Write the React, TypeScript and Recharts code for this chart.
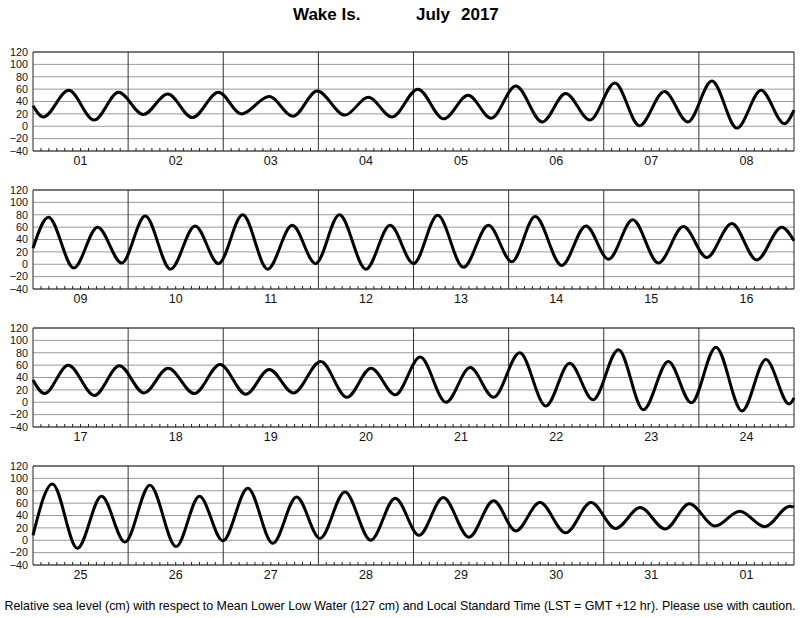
import React from "react";
import {
  CartesianGrid,
  Line,
  LineChart,
  ReferenceArea,
  ReferenceLine,
  XAxis,
  YAxis,
} from "recharts";

const FONT = '"Liberation Sans", Arial, Helvetica, sans-serif';
const GRID = "#9a9a9a";
const FRAME = "#222";

// hours since the first day of each panel, and level (cm) at the highs, lows and panel edges
const P1_HOURS = [0, 2.6, 9.0, 15.4, 21.6, 27.8, 34.0, 40.2, 46.8, 52.6, 59.6, 65.6, 71.7, 78.7, 84.6, 90.6, 97.1, 103.6, 109.8, 115.6, 121.8, 128.5, 134.4, 140.5, 146.8, 153.0, 159.3, 165.2, 171.3, 177.6, 183.7, 189.6, 192];
const P1_LEVELS = [33, 15, 58, 10, 55, 19, 52, 14, 55, 20, 48, 16, 57, 18, 47, 15, 60, 12, 50, 13, 65, 7, 53, 10, 70, 1, 56, 7, 73, -3, 58, 4, 26];

const P2_HOURS = [0, 3.9, 10.3, 16.3, 22.4, 28.3, 34.7, 40.9, 46.8, 52.9, 59.2, 65.4, 71.3, 77.3, 84.0, 90.1, 96.0, 102.1, 108.6, 114.9, 120.8, 126.7, 133.4, 139.5, 145.2, 151.3, 157.8, 164.1, 170.0, 176.3, 182.6, 188.9, 192];
const P2_LEVELS = [26, 76, -6, 60, 2, 78, -8, 62, 1, 80, -8, 63, 1, 80, -8, 63, 1, 79, -5, 63, 4, 77, -2, 62, 8, 72, 2, 61, 11, 66, 7, 60, 38];

const P3_HOURS = [0, 2.9, 8.9, 15.5, 21.8, 28.0, 34.1, 40.7, 47.2, 53.7, 59.6, 65.7, 72.6, 79.2, 85.3, 91.4, 97.7, 104.2, 110.3, 116.2, 122.8, 129.4, 135.4, 141.3, 147.7, 154.0, 160.3, 166.1, 172.3, 178.9, 184.9, 190.8, 192];
const P3_LEVELS = [36, 14, 60, 11, 59, 15, 55, 14, 61, 13, 53, 15, 66, 8, 55, 12, 73, 0, 56, 8, 80, -6, 63, 4, 85, -12, 66, -1, 89, -14, 69, -3, 7];

const P4_HOURS = [0, 4.9, 11.2, 17.3, 23.2, 29.5, 36.1, 42.0, 47.9, 54.2, 60.5, 66.5, 72.4, 78.7, 85.2, 91.4, 97.4, 103.5, 110.0, 116.2, 121.8, 127.9, 134.4, 140.8, 147.0, 153.2, 159.5, 165.6, 172.1, 178.3, 184.6, 191.0, 192];
const P4_LEVELS = [8, 91, -13, 71, -3, 89, -10, 71, -1, 84, -5, 70, 3, 78, 0, 68, 8, 69, 5, 64, 15, 61, 12, 61, 19, 53, 18, 59, 23, 47, 22, 55, 54];

const P1_DAYS = ["01", "02", "03", "04", "05", "06", "07", "08"];
const P2_DAYS = ["09", "10", "11", "12", "13", "14", "15", "16"];
const P3_DAYS = ["17", "18", "19", "20", "21", "22", "23", "24"];
const P4_DAYS = ["25", "26", "27", "28", "29", "30", "31", "01"];

const Y_TICKS = [-40, -20, 0, 20, 40, 60, 80, 100, 120];
const DAY_EDGES = [24, 48, 72, 96, 120, 144, 168];
const HOUR_TICKS = Array.from({ length: 97 }, (_, i) => i * 2);

const PANELS = [
  { hours: P1_HOURS, levels: P1_LEVELS, days: P1_DAYS },
  { hours: P2_HOURS, levels: P2_LEVELS, days: P2_DAYS },
  { hours: P3_HOURS, levels: P3_LEVELS, days: P3_DAYS },
  { hours: P4_HOURS, levels: P4_LEVELS, days: P4_DAYS },
];

function hourTick(props: any, days: string[]) {
  const { x, y, payload } = props;
  const v = payload.value as number;
  if (v % 24 === 0) return <g />;
  return (
    <g>
      <line x1={x} x2={x} y1={y} y2={y - 3} stroke={FRAME} strokeWidth={1} />
      {v % 24 === 12 && (
        <text
          x={x}
          y={y + 13.5}
          textAnchor="middle"
          fontSize={12.5}
          fontFamily={FONT}
          fill="#111"
        >
          {days[(v - 12) / 24]}
        </text>
      )}
    </g>
  );
}

function TidePanel({ hours, levels, days }: { hours: number[]; levels: number[]; days: string[] }) {
  const data = hours.map((h, i) => ({ h, v: levels[i] }));
  return (
    <LineChart width={800} height={138} data={data} margin={{ top: 5, right: 6, bottom: 0, left: 0 }}>
      <CartesianGrid vertical={false} stroke={GRID} strokeWidth={1} />
      <XAxis
        dataKey="h"
        type="number"
        domain={[0, 192]}
        ticks={HOUR_TICKS}
        interval={0}
        height={34}
        tickLine={false}
        axisLine={false}
        tickSize={0}
        tickMargin={0}
        tick={(p: any) => hourTick(p, days)}
      />
      <YAxis
        domain={[-40, 120]}
        ticks={Y_TICKS}
        interval={0}
        width={33}
        tickLine={false}
        axisLine={false}
        tickSize={3}
        tickMargin={2}
        tick={{ fill: "#111", fontSize: 10.8, fontFamily: FONT }}
        tickFormatter={(v: number) => (v < 0 ? `\u2212${-v}` : `${v}`)}
      />
      {DAY_EDGES.map((d) => (
        <ReferenceLine key={d} x={d} stroke="#333" strokeWidth={1} />
      ))}
      <ReferenceArea x1={0} x2={192} y1={-40} y2={120} fill="none" stroke={FRAME} strokeWidth={1} />
      <Line
        type="monotone"
        dataKey="v"
        stroke="#000"
        strokeWidth={3}
        dot={false}
        isAnimationActive={false}
      />
    </LineChart>
  );
}

export default function App() {
  return (
    <div style={{ position: "relative", width: 800, height: 618, background: "#fff", fontFamily: FONT }}>
      <style>{"body{margin:0}"}</style>
      <div style={{ position: "absolute", top: 5, left: 0, width: 800, fontSize: 17, fontWeight: "bold", color: "#000" }}>
        <span style={{ position: "absolute", left: 293 }}>Wake Is.</span>
        <span style={{ position: "absolute", left: 416 }}>July</span>
        <span style={{ position: "absolute", left: 461 }}>2017</span>
      </div>
      {PANELS.map((p, i) => (
        <div key={i} style={{ position: "absolute", left: 0, top: 47 + i * 138 }}>
          <TidePanel hours={p.hours} levels={p.levels} days={p.days} />
        </div>
      ))}
      <div style={{ position: "absolute", top: 599, left: 0, width: 800, textAlign: "center", fontSize: 12.4, color: "#000", whiteSpace: "nowrap" }}>
        Relative sea level (cm) with respect to Mean Lower Low Water (127 cm) and Local Standard Time (LST = GMT +12 hr). Please use with caution.
      </div>
    </div>
  );
}
